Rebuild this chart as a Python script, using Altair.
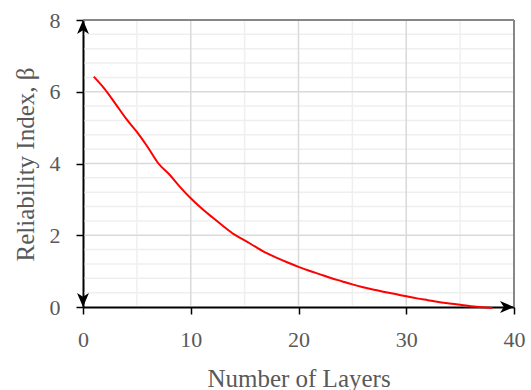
import altair as alt
import pandas as pd

# ---- data ----
layers = list(range(1, 39))
beta = [6.42, 6.08, 5.67, 5.25, 4.88, 4.46, 4.00, 3.70, 3.35, 3.03,
        2.75, 2.50, 2.26, 2.03, 1.86, 1.68, 1.51, 1.37, 1.24, 1.12,
        1.01, 0.91, 0.81, 0.72, 0.63, 0.55, 0.48, 0.42, 0.36, 0.30,
        0.24, 0.19, 0.14, 0.10, 0.06, 0.02, -0.01, -0.03]

x_major_ticks = [0, 10, 20, 30, 40]
y_major_ticks = [0, 2, 4, 6, 8]
x_major_grid = [10, 20, 30]
x_minor_grid = [5, 15, 25, 35]
y_major_grid = [2, 4, 6]
y_minor_grid = [0.4, 0.8, 1.2, 1.6, 2.4, 2.8, 3.2, 3.6, 4.4, 4.8, 5.2, 5.6,
                6.4, 6.8, 7.2, 7.6]
x_domain = [0, 40]
y_domain = [0, 8]

FONT = "Liberation Serif"
TXT = "#595959"

df = pd.DataFrame({"layers": layers, "beta": beta})

xs = alt.Scale(domain=x_domain, nice=False, zero=False)
ys = alt.Scale(domain=y_domain, nice=False, zero=False)

x_axis = alt.Axis(
    values=x_major_ticks, grid=False,
    tickColor="black", tickSize=7, tickWidth=1.5,
    domainColor="black", domainWidth=2,
    labelFont=FONT, labelFontSize=22, labelColor=TXT,
    labelBaseline="alphabetic", labelPadding=32,
    labelFlush=False, labelOverlap=False, labelBound=False,
    title="Number of Layers", titleFont=FONT, titleFontSize=25,
    titleColor=TXT, titleFontWeight="normal",
    titleBaseline="alphabetic", titleY=79,
)

y_axis = alt.Axis(
    values=y_major_ticks, grid=False,
    tickColor="black", tickSize=7, tickWidth=1.5,
    domainColor="black", domainWidth=2,
    labelFont=FONT, labelFontSize=22, labelColor=TXT,
    labelBaseline="middle", labelPadding=16,
    labelFlush=False, labelOverlap=False, labelBound=False,
    title="Reliability Index, β", titleFont=FONT, titleFontSize=25,
    titleColor=TXT, titleFontWeight="normal",
    titleAngle=270, titleBaseline="alphabetic", titleAlign="center",
    titleX=-50, titleY=144,
)


def vgrid(vals, color):
    d = pd.DataFrame({"x": vals})
    return alt.Chart(d).mark_rule(color=color, strokeWidth=1.5, yOffset=-1.5).encode(
        x=alt.X("x:Q", scale=xs), y=alt.datum(y_domain[0]), y2=alt.datum(y_domain[1]))


def hgrid(vals, color):
    d = pd.DataFrame({"y": vals})
    return alt.Chart(d).mark_rule(color=color, strokeWidth=1.5, xOffset=1.5).encode(
        y=alt.Y("y:Q", scale=ys), x=alt.datum(x_domain[0]), x2=alt.datum(x_domain[1]))


line = alt.Chart(df).mark_line(color="#ff0000", strokeWidth=2, interpolate="monotone").encode(
    x=alt.X("layers:Q", scale=xs, axis=x_axis),
    y=alt.Y("beta:Q", scale=ys, axis=y_axis),
)

# plot-area border (top and right), drawn at the domain ends
top_df = pd.DataFrame({"x": [x_domain[0]], "x2": [x_domain[1]], "y": [y_domain[1]]})
right_df = pd.DataFrame({"x": [x_domain[1]], "y": [y_domain[0]], "y2": [y_domain[1]]})

top_rule = alt.Chart(top_df).mark_rule(color="#878787", strokeWidth=2).encode(
    x=alt.X("x:Q", scale=xs), x2="x2:Q", y=alt.Y("y:Q", scale=ys))
right_rule = alt.Chart(right_df).mark_rule(color="#878787", strokeWidth=2).encode(
    x=alt.X("x:Q", scale=xs), y=alt.Y("y:Q", scale=ys), y2="y2:Q")

# arrowheads at the axis ends
up_df = pd.DataFrame({"x": [x_domain[0]], "y": [y_domain[1]]})
down_df = pd.DataFrame({"x": [x_domain[0]], "y": [y_domain[0]]})
right_arrow_df = pd.DataFrame({"x": [x_domain[1]], "y": [y_domain[0]]})

UP = "M0,0 L0.85,2 L0,1.45 L-0.85,2 Z"
DOWN = "M0,0 L0.85,-2 L0,-1.45 L-0.85,-2 Z"
RIGHT = "M0,0 L-2,0.85 L-1.45,0 L-2,-0.85 Z"


def arrow(d, shape):
    return alt.Chart(d).mark_point(shape=shape, size=196, filled=True, color="black",
                                   opacity=1, strokeWidth=0).encode(
        x=alt.X("x:Q", scale=xs), y=alt.Y("y:Q", scale=ys))


chart = alt.layer(
    vgrid(x_minor_grid, "#efefef"), hgrid(y_minor_grid, "#efefef"),
    vgrid(x_major_grid, "#d9d9d9"), hgrid(y_major_grid, "#d9d9d9"),
    top_rule, right_rule, line,
    arrow(up_df, UP), arrow(down_df, DOWN), arrow(right_arrow_df, RIGHT),
).properties(
    width=431, height=287,
    padding={"left": 83, "top": 20, "right": 17, "bottom": 83},
    autosize=alt.AutoSizeParams(type="none"),
    background="white",
).configure_view(strokeWidth=0)

chart.save("out.html", embed_options={"renderer": "svg", "actions": False})
